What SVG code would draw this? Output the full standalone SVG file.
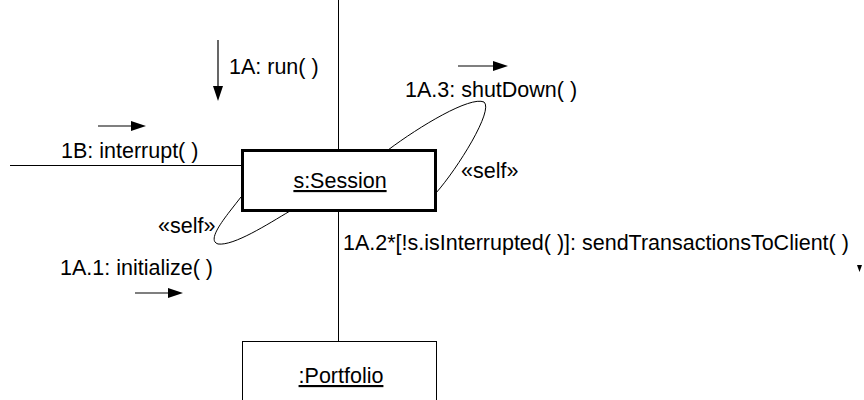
<svg xmlns="http://www.w3.org/2000/svg" width="864" height="400" viewBox="0 0 864 400">
  <style>
    text { font-family: "Liberation Sans", Arial, sans-serif; font-size: 21.5px; fill: #000; }
    .link { stroke: #000; stroke-width: 1; fill: none; }
    .loop { stroke: #000; stroke-width: 1; fill: none; }
    .msg { stroke: #000; stroke-width: 1.2; fill: none; }
    .head { fill: #000; }
  </style>
  <rect width="864" height="400" fill="#fff"/>

  <!-- links between objects -->
  <g id="connectors">
    <line class="link" x1="338.5" y1="0" x2="338.5" y2="341"/>
    <line class="link" x1="10" y1="165.5" x2="241" y2="165.5"/>
    <path class="loop" d="M388,150 C420,126 470,96 484,102 C494,110 458,168 436,193"/>
    <path class="loop" d="M241,197 C228,214 205,240 218,244 C234,246 268,224 290,211"/>
  </g>

  <!-- message arrows and labels -->
  <g id="msg-run">
    <line class="msg" x1="218" y1="40" x2="218" y2="90"/>
    <polygon class="head" points="213,86 223,86 218,101"/>
    <text x="229" y="74">1A: run( )</text>
  </g>
  <g id="msg-shutdown">
    <line class="msg" x1="458" y1="66" x2="496" y2="66"/>
    <polygon class="head" points="493,61 493,71 508,66"/>
    <text x="405" y="97">1A.3: shutDown( )</text>
    <text x="461" y="178">«self»</text>
  </g>
  <g id="msg-interrupt">
    <line class="msg" x1="98" y1="126" x2="134" y2="126"/>
    <polygon class="head" points="131,121 131,131 146,126"/>
    <text x="61" y="158">1B: interrupt( )</text>
  </g>
  <g id="msg-initialize">
    <text x="158" y="233">«self»</text>
    <text x="60" y="275">1A.1: initialize( )</text>
    <line class="msg" x1="135" y1="293" x2="171" y2="293"/>
    <polygon class="head" points="168,288 168,298 183,293"/>
  </g>
  <g id="msg-send">
    <text x="343" y="250">1A.2*[!s.isInterrupted( )]: sendTransactionsToClient( )</text>
    <polygon class="head" points="857,265 862,265 859.5,272"/>
  </g>

  <!-- objects -->
  <g id="session">
    <rect x="242.5" y="150.5" width="193" height="60" fill="#fff" stroke="#000" stroke-width="3"/>
    <text x="340" y="188" text-anchor="middle" text-decoration="underline">s:Session</text>
  </g>
  <g id="portfolio">
    <rect x="242.5" y="341.5" width="194" height="70" fill="#fff" stroke="#000" stroke-width="1"/>
    <text x="341" y="383" text-anchor="middle" text-decoration="underline">:Portfolio</text>
  </g>
</svg>
